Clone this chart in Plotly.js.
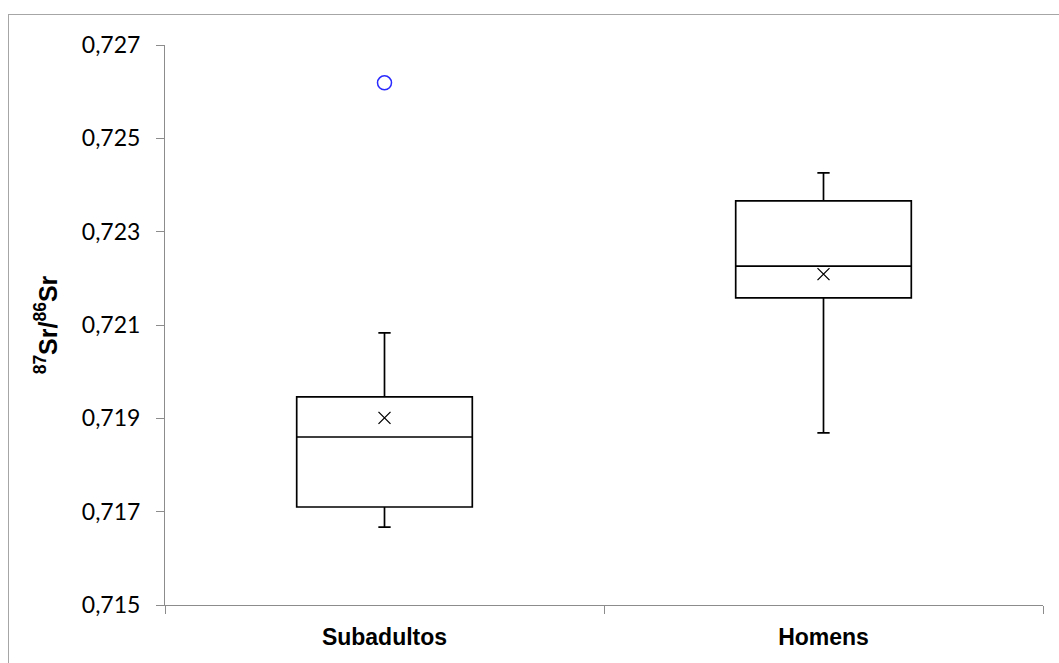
<!DOCTYPE html>
<html>
<head>
<meta charset="utf-8">
<script src="https://cdn.plot.ly/plotly-3.0.1.min.js"></script>
<style>
  html, body { margin: 0; padding: 0; background: #fff; }
  #wrap { position: relative; width: 1059px; height: 663px; }
  #chart { width: 1059px; height: 663px; }
  #frame { position: absolute; left: 8px; top: 14px; right: -2px; bottom: -2px;
           border-left: 1px solid #a6a6a6; border-top: 1px solid #a6a6a6; pointer-events: none; }
</style>
</head>
<body>
<div id="wrap">
  <div id="chart"></div>
  <div id="frame"></div>
</div>
<script>
// Data
const categories = ["Subadultos", "Homens"];
const lowerWhisker = [0.71667, 0.71869];
const q1Values     = [0.71710, 0.72158];
const medianValues = [0.71860, 0.72226];
const q3Values     = [0.71946, 0.72366];
const upperWhisker = [0.72083, 0.72426];
const meanValues   = [0.71901, 0.72209];
const outlierCategories = ["Subadultos"];
const outlierValues     = [0.72619];
const yTickValues = [0.715, 0.717, 0.719, 0.721, 0.723, 0.725, 0.727];

const traces = [
  {
    type: "box",
    x: categories,
    q1: q1Values,
    median: medianValues,
    q3: q3Values,
    lowerfence: lowerWhisker,
    upperfence: upperWhisker,
    boxpoints: false,
    width: 0.4,
    whiskerwidth: 0.07,
    fillcolor: "#ffffff",
    line: { color: "#000000", width: 1.7 },
    hoverinfo: "skip",
    showlegend: false
  },
  {
    type: "scatter",
    mode: "markers",
    x: categories,
    y: meanValues,
    marker: { symbol: "x-thin-open", size: 12, color: "#000000", line: { color: "#000000", width: 1.3 } },
    hoverinfo: "skip",
    showlegend: false
  },
  {
    type: "scatter",
    mode: "markers",
    x: outlierCategories,
    y: outlierValues,
    marker: { symbol: "circle-open", size: 14, color: "#2a2aff", line: { color: "#2a2aff", width: 1.5 } },
    hoverinfo: "skip",
    showlegend: false
  }
];

const layout = {
  width: 1059,
  height: 663,
  margin: { l: 165, r: 16, t: 45, b: 58 },
  paper_bgcolor: "#ffffff",
  plot_bgcolor: "#ffffff",
  separators: ",.",
  showlegend: false,
  xaxis: {
    type: "category",
    categoryorder: "array",
    categoryarray: categories,
    range: [-0.5, 1.5],
    showgrid: false,
    zeroline: false,
    showline: true,
    linecolor: "#8c8c8c",
    linewidth: 1,
    ticks: "outside",
    tickson: "boundaries",
    ticklen: 8,
    tickcolor: "#8c8c8c",
    ticklabelstandoff: 11,
    tickfont: { family: "Liberation Sans, Arial, sans-serif", size: 23, color: "#000000", weight: "bold" },
    fixedrange: true
  },
  yaxis: {
    range: [0.715, 0.727],
    tickvals: yTickValues,
    tickformat: ".3f",
    showgrid: false,
    zeroline: false,
    showline: true,
    linecolor: "#8c8c8c",
    linewidth: 1,
    ticks: "outside",
    ticklen: 8,
    tickcolor: "#8c8c8c",
    ticklabelstandoff: 11,
    tickfont: { family: "Lato, Open Sans, sans-serif", size: 23, color: "#000000" },
    title: {
      text: "<sup>87</sup>Sr/<sup>86</sup>Sr",
      font: { family: "Liberation Sans, Arial, sans-serif", size: 25, color: "#000000", weight: "bold" },
      standoff: 17
    },
    fixedrange: true
  }
};

Plotly.newPlot("chart", traces, layout, { displayModeBar: false, staticPlot: true });
</script>
</body>
</html>
